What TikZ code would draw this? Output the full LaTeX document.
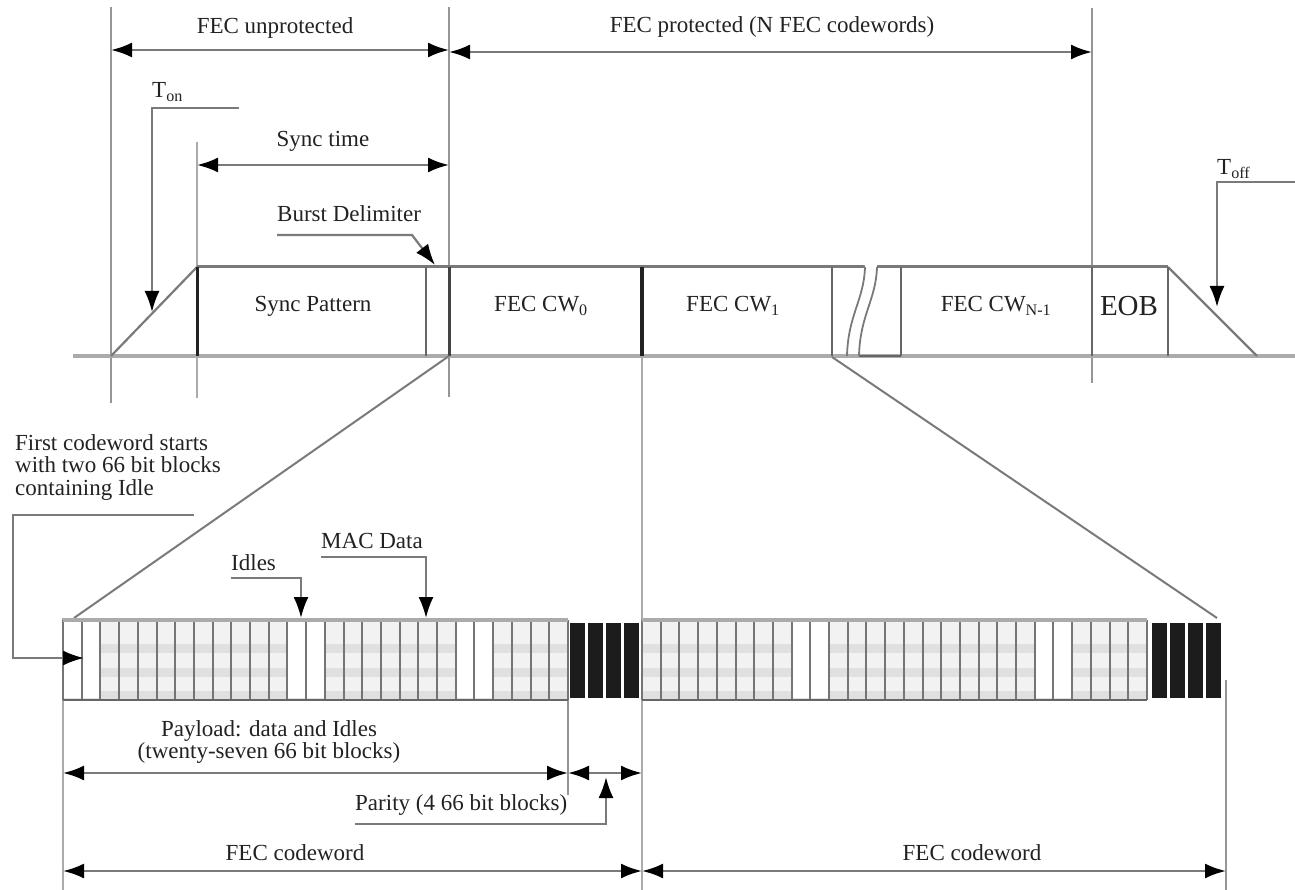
\documentclass[tikz,border=0pt]{standalone}
\usepackage{fontspec}
\setmainfont{Liberation Serif}
\usetikzlibrary{arrows.meta}
\definecolor{ink}{HTML}{222222}
\definecolor{linegray}{HTML}{7A7A7A}
\definecolor{basegray}{HTML}{ABABAB}
\definecolor{boxgray}{HTML}{666666}
\definecolor{datafill}{HTML}{F2F2F2}
\definecolor{bandgray}{HTML}{E0E0E0}
\definecolor{parblack}{HTML}{1C1C1C}
\tikzset{
  lbl/.style={font=\fontsize{23}{22.5}\selectfont,text=ink,inner sep=0pt,anchor=base},
  dim/.style={draw=linegray,line width=2.5pt,{Latex[length=21pt,width=15pt,color=black]}-{Latex[length=21pt,width=15pt,color=black]}},
  lead/.style={draw=linegray,line width=2.2pt},
  leadarr/.style={lead,-{Latex[length=21pt,width=15pt,color=black]}},
  extline/.style={draw=linegray!80,line width=2.5pt},
  boxline/.style={draw=boxgray,line width=2.5pt},
  sepline/.style={draw=boxgray!90,line width=2pt},
}
% one row of 27 payload blocks: #1 = left x, #2 = idle blocks
\newcommand{\payloadrow}[2]{%
  \fill[datafill] (#1,622) rectangle ++(505,76);
  \foreach \yb in {644,668,691} \fill[bandgray] (#1,\yb) rectangle ++(505,9);
  \foreach \k in {#2} \fill[white] ({#1+(\k-1)*18.7},622) rectangle ++(18.7,76);
  \foreach \k in {0,...,27} \draw[sepline] ({#1+\k*18.7},620) -- ++(0,80);
  \draw[draw=basegray,line width=3.5pt] (#1,620) -- ++(505,0);
  \draw[boxline] (#1,700) -- ++(505,0);
}
\newcommand{\parityrow}[1]{%
  \foreach \k in {0,...,3} \fill[parblack] ({#1+\k*18.2+1.5},623) rectangle ++(15,75);
}

\begin{document}
\begin{tikzpicture}[x=1pt,y=-1pt]
  \useasboundingbox (0,0) rectangle (1295,890);

  % extension lines
  \draw[extline] (111,7) -- (111,403);
  \draw[extline] (449,7) -- (449,397);
  \draw[extline] (1092,8) -- (1092,383);
  \draw[extline,draw=basegray] (197,142) -- (197,398);
  \draw[extline,draw=basegray] (642,267) -- (642,890);
  \draw[extline,draw=basegray] (63,618) -- (63,890);
  \draw[extline] (568,700) -- (568,795);
  \draw[extline] (1226,680) -- (1226,890);

  % burst outline
  \draw[draw=basegray,line width=4pt] (73,356) -- (1295,356);
  \draw[draw=linegray,line width=2.2pt] (111,356) -- (197,267);
  \draw[draw=linegray,line width=2.2pt] (1168,267) -- (1257,356);
  \draw[draw=linegray,line width=3pt] (197,267) -- (1168,267);
  \draw[draw=ink,line width=3pt] (197,267) -- (197,356);
  \draw[boxline] (426,267) -- (426,356);
  \draw[draw=ink!85,line width=3pt] (449,267) -- (449,356);
  \draw[draw=ink,line width=3.5pt] (642,267) -- (642,356);
  \draw[boxline] (832,267) -- (832,356);
  \draw[boxline] (901,267) -- (901,356);
  \draw[boxline] (1092,267) -- (1092,356);
  \draw[boxline] (1168,267) -- (1168,356);
  \draw[boxline] (859,356) -- (901,356);
  % break marks
  \fill[white] (865,265) .. controls (864,300) and (848,315) .. (847,353)
    -- (859,353) .. controls (860,315) and (876,300) .. (877,265) -- cycle;
  \draw[draw=linegray,line width=1.8pt] (865,267) .. controls (864,300) and (848,315) .. (847,356);
  \draw[draw=linegray,line width=1.8pt] (877,267) .. controls (876,300) and (860,315) .. (859,356);

  % labels of the burst
  \node[lbl] (unprot) at (275,34) {FEC unprotected};
  \node[lbl] (prot) at (772,33) {FEC protected (N FEC codewords)};
  \node[lbl,anchor=base west] (ton) at (152,98) {T\textsubscript{on}};
  \node[lbl] (synct) at (323,147) {Sync time};
  \node[lbl,anchor=base west] (burst) at (277,222) {Burst Delimiter};
  \node[lbl] (syncp) at (313,312) {Sync Pattern};
  \node[lbl] (cw0) at (541,312) {FEC CW\textsubscript{0}};
  \node[lbl] (cw1) at (733,312) {FEC CW\textsubscript{1}};
  \node[lbl] (cwn) at (996,312) {FEC CW\textsubscript{N-1}};
  \node[lbl,font=\fontsize{29}{29}\selectfont] (eob) at (1129,316) {EOB};
  \node[lbl,anchor=base west] (toff) at (1217,175) {T\textsubscript{off}};

  % dimension arrows on top
  \draw[dim] (111,50) -- (449,50);
  \draw[dim] (449,52) -- (1092,52);
  \draw[dim] (197,165) -- (449,165);

  % leaders on top
  \draw[leadarr] (239,108) -- (152,108) -- (152,312);
  \draw[leadarr] (277,235) -- (412,235) -- (435,265);
  \draw[leadarr] (1295,182) -- (1217,182) -- (1217,307);

  % zoom lines
  \draw[draw=linegray,line width=2pt] (449,356) -- (74,618);
  \draw[draw=linegray,line width=2pt] (832,357) -- (1217,618);

  % codeword strip
  \payloadrow{63}{1,2,13,14,22,23}
  \parityrow{568}
  \payloadrow{642}{9,10,22,23}
  \parityrow{1150}

  % labels of the strip
  \node[lbl,anchor=north west,align=left] (first) at (15,434) {First codeword starts\\with two 66 bit blocks\\containing Idle};
  \node[lbl,anchor=base west] (idles) at (231,570) {Idles};
  \node[lbl,anchor=base west] (mac) at (321,548) {MAC Data};
  \node[lbl,anchor=north,align=center] (payl) at (269,720) {Payload: data and Idles\\(twenty-seven 66 bit blocks)};
  \node[lbl,anchor=base west] (parity) at (355,810) {Parity (4 66 bit blocks)};
  \node[lbl] (cwa) at (295,860) {FEC codeword};
  \node[lbl] (cwb) at (972,860) {FEC codeword};

  % leaders on the strip
  \draw[leadarr] (194,515) -- (13,515) -- (13,658) -- (84,658);
  \draw[leadarr] (231,578) -- (301,578) -- (301,618);
  \draw[leadarr] (321,557) -- (426,557) -- (426,618);
  \draw[leadarr] (355,824) -- (606,824) -- (606,777);

  % dimension arrows below
  \draw[dim] (63,773) -- (568,773);
  \draw[dim] (568,773) -- (642,773);
  \draw[dim] (63,871) -- (642,871);
  \draw[dim] (642,871) -- (1226,871);
\end{tikzpicture}
\end{document}
